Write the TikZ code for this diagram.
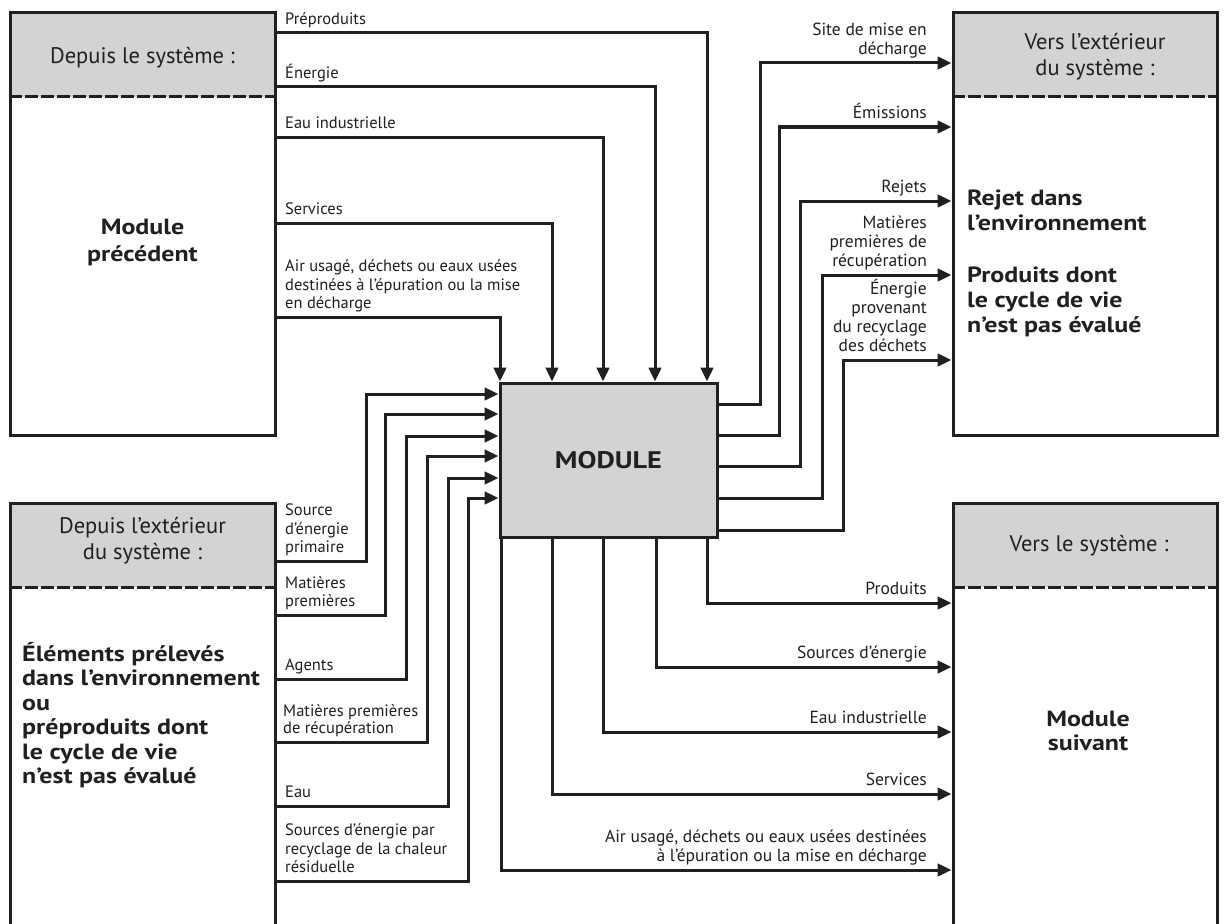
\documentclass[tikz,border=0pt]{standalone}
\usepackage{fontspec}
\setmainfont{PT Sans}
\newfontfamily\widesans[FakeStretch=1.18]{PT Sans}
\usetikzlibrary{arrows.meta,backgrounds}
\definecolor{ink}{RGB}{35,31,32}
\definecolor{panelgrey}{RGB}{209,211,212}
\begin{document}
\begin{tikzpicture}[x=1pt,y=-1pt,
  frame/.style={draw=ink,line width=3pt,inner sep=0pt},
  panel/.style={frame,minimum width=265pt},
  divider/.style={draw=ink,line width=3pt,dash pattern=on 13pt off 3pt},
  link/.style={draw=ink,line width=3pt,line join=miter},
  feed/.style={link,-{Triangle[length=14pt,width=12.5pt]}},
  inlabel/.style={font=\fontsize{16.5}{18.5}\selectfont,text=ink,inner sep=0pt,align=left,anchor=south west,text depth=0pt},
  outlabel/.style={font=\fontsize{17.5}{19}\selectfont,text=ink,inner sep=0pt,align=right,anchor=south east,text depth=0pt},
  headtext/.style={font=\fontsize{22.5}{26}\selectfont,text=ink,align=center,inner sep=0pt},
  boldtext/.style={font=\widesans\bfseries\fontsize{22}{24.5}\selectfont,text=ink,inner sep=0pt},
]
\useasboundingbox (0,0) rectangle (1225,923);
\clip (0,0) rectangle (1225,923);

% the four system panels and the central module
\node[panel,minimum height=422pt] (prev) at (142.5,224) {};
\node[panel,minimum height=447pt] (src) at (142.5,726.5) {};
\node[panel,minimum width=264pt,minimum height=422pt] (sink) at (1085,224) {};
\node[panel,minimum width=264pt,minimum height=447pt] (next) at (1085,726.5) {};
\node[frame,fill=panelgrey,minimum width=217pt,minimum height=154pt,
      font=\widesans\bfseries\fontsize{24}{28}\selectfont,text=ink] (mod) at (608.5,460) {MODULE};

% grey title bands of the panels
\begin{scope}[on background layer]
  \fill[white] (0,0) rectangle (1225,923);
  \fill[panelgrey] (prev.north west) rectangle (prev.east |- 0,97);
  \fill[panelgrey] (sink.north west) rectangle (sink.east |- 0,97);
  \fill[panelgrey] (src.north west) rectangle (src.east |- 0,587);
  \fill[panelgrey] (next.north west) rectangle (next.east |- 0,587);
\end{scope}
\draw[divider] (prev.west |- 0,97) -- (prev.east |- 0,97);
\draw[divider] (sink.west |- 0,97) -- (sink.east |- 0,97);
\draw[divider] (src.west |- 0,587) -- (src.east |- 0,587);
\draw[divider] (next.west |- 0,587) -- (next.east |- 0,587);

% panel texts
\node[headtext] (prev-head) at (142.5,58) {Depuis le système :};
\node[boldtext,align=center,font=\widesans\bfseries\fontsize{22}{27}\selectfont] (prev-body) at (142.5,242) {Module\\précédent};
\node[headtext] (sink-head) at (1095,57) {Vers l’extérieur\\du système :};
\node[boldtext,align=left,anchor=west,font=\widesans\bfseries\fontsize{22}{25}\selectfont] (sink-body1) at (967,210) {Rejet dans\\l’environnement};
\node[boldtext,align=left,anchor=west,font=\widesans\bfseries\fontsize{22}{25}\selectfont] (sink-body2) at (967,302) {Produits dont\\le cycle de vie\\n’est pas évalué};
\node[headtext] (src-head) at (142.5,541) {Depuis l’extérieur\\du système :};
\node[boldtext,align=left,anchor=west] (src-body) at (22,715) {Éléments prélevés\\dans l’environnement\\ou\\préproduits dont\\le cycle de vie\\n’est pas évalué};
\node[headtext] (next-head) at (1089,546) {Vers le système :};
\node[boldtext,align=center] (next-body) at (1088,731) {Module\\suivant};

% flows from the preceding module
\draw[feed] (prev.east |- 0,33)  -| (707,0 |- mod.north);
\draw[feed] (prev.east |- 0,87)  -| (655,0 |- mod.north);
\draw[feed] (prev.east |- 0,137) -| (603,0 |- mod.north);
\draw[feed] (prev.east |- 0,223) -| (552,0 |- mod.north);
\draw[feed] (prev.east |- 0,317) -| (500,0 |- mod.north);
\node[inlabel] (l-pre) at (285,25) {Préproduits};
\node[inlabel] (l-ene) at (285,79) {Énergie};
\node[inlabel] (l-eau) at (285,129) {Eau industrielle};
\node[inlabel] (l-ser) at (285,215) {Services};
\node[inlabel] (l-air) at (285,309) {Air usagé, déchets ou eaux usées\\destinées à l’épuration ou la mise\\en décharge};

% flows from outside the system
\draw[feed] (src.east |- 0,561) -| (366,394) -- (mod.west |- 0,394);
\draw[feed] (src.east |- 0,615) -| (385,414) -- (mod.west |- 0,414);
\draw[feed] (src.east |- 0,679) -| (406,436) -- (mod.west |- 0,436);
\draw[feed] (src.east |- 0,742) -| (427,456) -- (mod.west |- 0,456);
\draw[feed] (src.east |- 0,806) -| (448,478) -- (mod.west |- 0,478);
\draw[feed] (src.east |- 0,881) -| (468,498) -- (mod.west |- 0,498);
\node[inlabel] (l-src) at (285,553) {Source\\d’énergie\\primaire};
\node[inlabel] (l-mat) at (285,607) {Matières\\premières};
\node[inlabel] (l-age) at (285,671) {Agents};
\node[inlabel,font=\fontsize{16.5}{17}\selectfont] (l-rec) at (283,734) {Matières premières\\de récupération};
\node[inlabel] (l-wat) at (285,798) {Eau};
\node[inlabel] (l-heat) at (285,873) {Sources d’énergie par\\recyclage de la chaleur\\résiduelle};

% flows leaving the system
\draw[feed] (mod.east |- 0,404) -| (760,63)  -- (sink.west |- 0,63);
\draw[feed] (mod.east |- 0,435) -| (779,127) -- (sink.west |- 0,127);
\draw[feed] (mod.east |- 0,466) -| (800,201) -- (sink.west |- 0,201);
\draw[feed] (mod.east |- 0,498) -| (822,275) -- (sink.west |- 0,275);
\draw[feed] (mod.east |- 0,530) -| (843,360) -- (sink.west |- 0,360);
\node[outlabel] (r-site) at (927,55) {Site de mise en\\décharge};
\node[outlabel] (r-emi) at (927,119) {Émissions};
\node[outlabel] (r-rej) at (927,193) {Rejets};
\node[outlabel] (r-mat) at (927,267) {Matières\\premières de\\récupération};
\node[outlabel] (r-ene) at (927,352) {Énergie\\provenant\\du recyclage\\des déchets};

% flows to the following module
\draw[feed] (707,0 |- mod.south) |- (next.west |- 0,603);
\draw[feed] (656,0 |- mod.south) |- (next.west |- 0,667);
\draw[feed] (603,0 |- mod.south) |- (next.west |- 0,732);
\draw[feed] (552,0 |- mod.south) |- (next.west |- 0,794);
\draw[feed] (501,0 |- mod.south) |- (next.west |- 0,870);
\node[outlabel] (b-pro) at (927,595) {Produits};
\node[outlabel] (b-ene) at (927,659) {Sources d’énergie};
\node[outlabel] (b-eau) at (927,724) {Eau industrielle};
\node[outlabel] (b-ser) at (927,786) {Services};
\node[outlabel] (b-air) at (927,862) {Air usagé, déchets ou eaux usées destinées\\à l’épuration ou la mise en décharge};
\end{tikzpicture}
\end{document}
